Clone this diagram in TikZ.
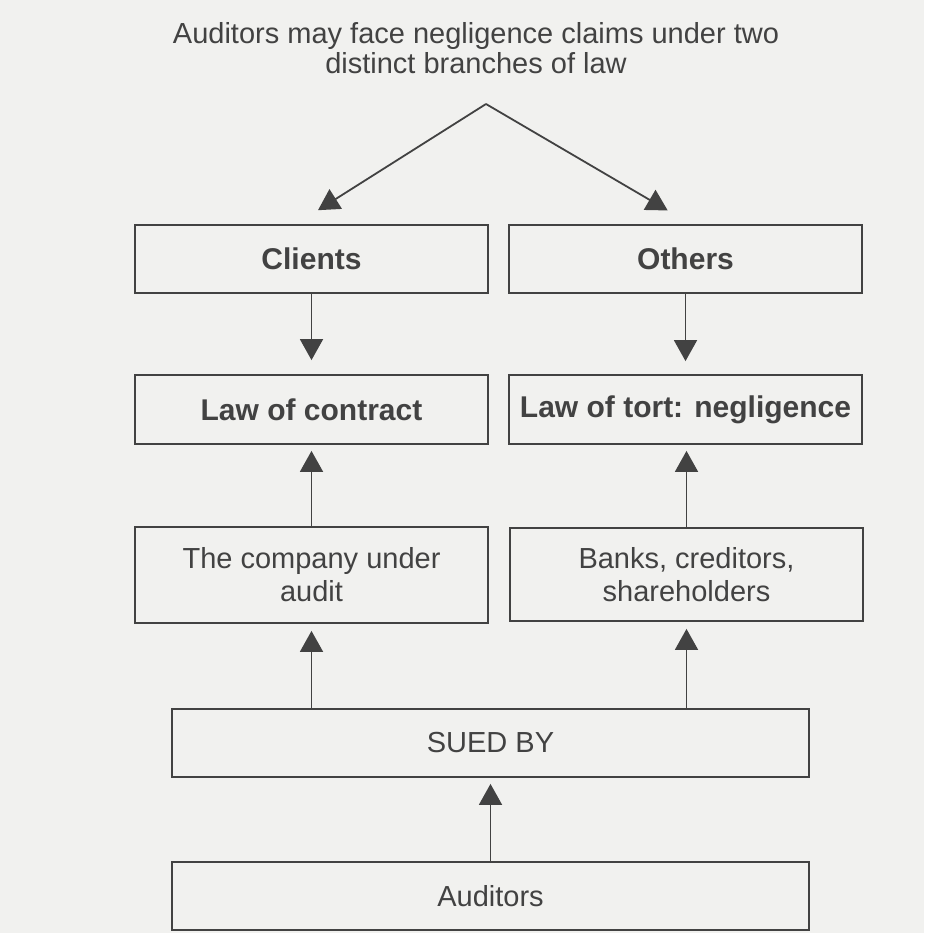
\documentclass[tikz,border=0pt]{standalone}
\usepackage{fontspec}
\setmainfont{Liberation Sans}
\usetikzlibrary{arrows.meta,calc}
\definecolor{ink}{HTML}{424242}
\definecolor{paper}{HTML}{F1F1EF}
\begin{document}
\begin{tikzpicture}[x=1pt,y=1pt,
  box/.style={draw=ink,line width=1.8pt,minimum width=353pt,inner sep=0pt,align=center,text=ink,font=\fontsize{29}{33}\selectfont},
  boldbox/.style={box,minimum height=68pt,font=\fontsize{30}{34}\selectfont\bfseries},
  widebox/.style={box,minimum width=637pt,minimum height=68pt},
  arr/.style={draw=ink,line width=1.8pt,-{Triangle[length=21pt,width=23pt]}}
]
\fill[paper] (0,0) rectangle (924,-933);
\useasboundingbox (0,0) rectangle (924,-933);

\node[text=ink,align=center,font=\fontsize{29}{30}\selectfont] (title) at (476,-48)
  {Auditors may face negligence claims under two\\distinct branches of law};
\coordinate (apex) at (486,-104);

\node[boldbox] (clients) at (311.5,-259) {Clients};
\node[boldbox] (others) at (685.5,-259) {Others};
\node[boldbox,minimum height=69pt] (contract) at (311.5,-409.5) {Law of contract};
\node[boldbox,minimum height=69pt] (tort) at (685.5,-409.5) {Law of tort: negligence};
\node[box,minimum height=96pt] (company) at (311.5,-575) {The company under\\audit};
\node[box,minimum height=93pt] (banks) at (686.5,-574.5) {Banks, creditors,\\shareholders};
\node[widebox] (sued) at (490.5,-743) {SUED BY};
\node[widebox,minimum height=68pt] (auditors) at (490.5,-896) {Auditors};

\draw[arr,shorten >=26pt] (apex) -- ([xshift=-15.5pt]clients.north);
\draw[arr,shorten >=27pt] (apex) -- ([xshift=5.5pt]others.north);
\draw[arr,shorten >=14pt] (clients.south) -- (contract.north);
\draw[arr,shorten >=13pt] (others.south) -- (tort.north);
\draw[arr,shorten >=6pt] (company.north) -- (contract.south);
\draw[arr,shorten >=6pt] (banks.north) -- (banks.north |- tort.south);
\draw[arr,shorten >=7pt] (sued.north -| company) -- (company.south);
\draw[arr,shorten >=7pt] (sued.north -| banks) -- (banks.south);
\draw[arr,shorten >=6pt] (auditors.north) -- (sued.south);
\end{tikzpicture}
\end{document}
